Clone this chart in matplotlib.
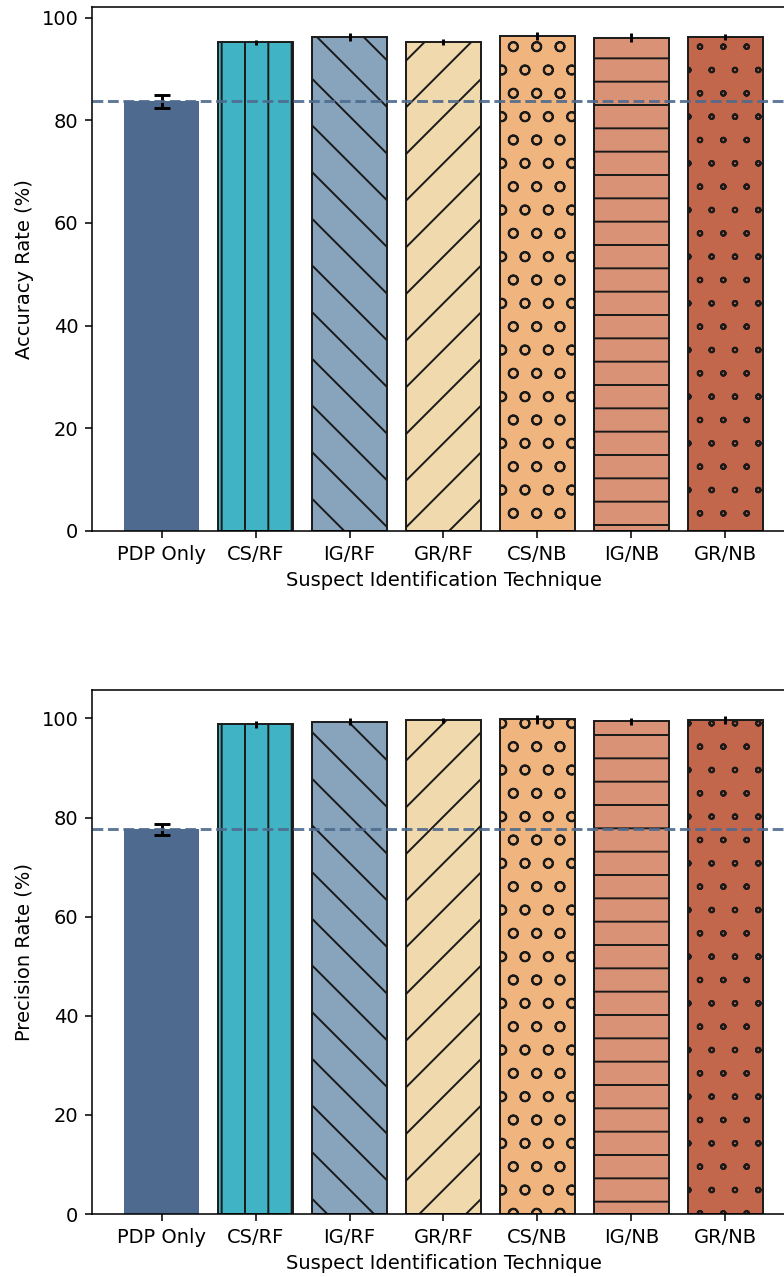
import matplotlib.pyplot as plt
import matplotlib.hatch
import numpy as np

# the '.' hatch in the reference shows small open rings, not filled dots
matplotlib.hatch.SmallFilledCircles.filled = False

# data
techniques = ["PDP Only", "CS/RF", "IG/RF", "GR/RF", "CS/NB", "IG/NB", "GR/NB"]
accuracy = [83.7, 95.2, 96.2, 95.3, 96.4, 96.1, 96.2]
accuracy_err = [1.25, 0.45, 0.8, 0.6, 0.8, 0.85, 0.6]
precision = [77.6, 98.8, 99.3, 99.6, 99.8, 99.4, 99.6]
precision_err = [1.05, 0.7, 0.7, 0.5, 0.9, 0.65, 0.8]

colors = ["#4e6a8e", "#40b4c4", "#88a3bc", "#f0d9ac", "#f0b47e", "#da9276", "#c2664c"]
hatches = ["", "|", "\\", "/", "o", "-", "."]

fig = plt.figure(figsize=(5.6, 1277 / 140), dpi=140)
ax1 = fig.add_axes([92 / 784, 1 - 531 / 1277, 703 / 784, 524 / 1277])
ax2 = fig.add_axes([92 / 784, 1 - 1214 / 1277, 703 / 784, 524 / 1277])


def draw(ax, vals, errs, ylabel):
    x = np.arange(len(techniques))
    # baseline bar
    ax.bar(x[0], vals[0], yerr=errs[0], color=colors[0], width=0.8,
           capsize=4, error_kw=dict(elinewidth=1.5, capthick=1.5))
    for i in range(1, len(techniques)):
        ax.bar(x[i], vals[i], yerr=errs[i], color=colors[i], width=0.8,
               edgecolor="#1a1a1a", linewidth=1.0, hatch=hatches[i],
               error_kw=dict(elinewidth=1.5, capsize=0))
    ax.axhline(vals[0], color=colors[0], linestyle="--", linewidth=1.5, alpha=0.9)
    ax.set_xticks(x)
    ax.set_xticklabels(techniques)
    ax.set_yticks([0, 20, 40, 60, 80, 100])
    ax.set_xlabel("Suspect Identification Technique")
    ax.set_ylabel(ylabel)


draw(ax1, accuracy, accuracy_err, "Accuracy Rate (%)")
draw(ax2, precision, precision_err, "Precision Rate (%)")

fig.savefig("out.png", dpi=140)
